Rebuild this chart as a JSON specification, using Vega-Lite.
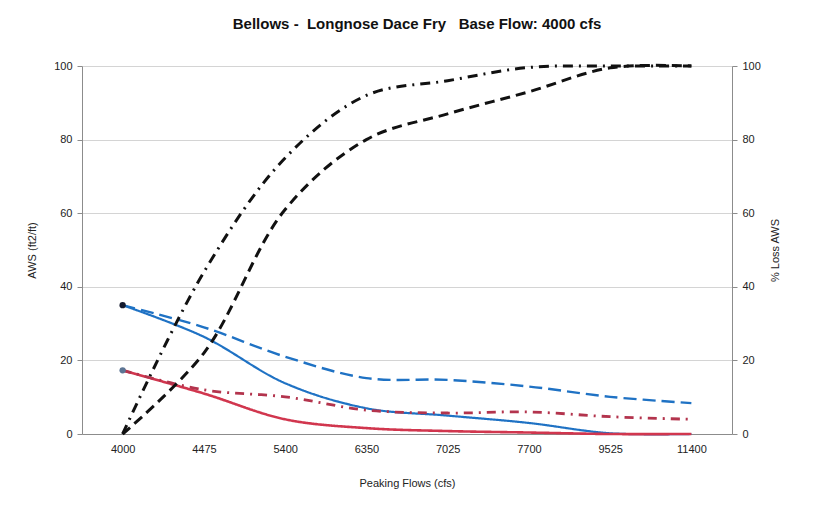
{
  "$schema": "https://vega.github.io/schema/vega-lite/v6.json",
  "autosize": {"type": "none"},
  "width": 650,
  "height": 368,
  "padding": {"left": 82, "top": 66, "right": 86, "bottom": 71},
  "background": "white",
  "config": {
    "font": "Liberation Sans",
    "view": {"stroke": null},
    "axis": {"labelFont": "Liberation Sans", "titleFont": "Liberation Sans", "labelFontSize": 11, "titleFontSize": 11, "titleFontWeight": "normal", "labelColor": "#222", "titleColor": "#222", "domainColor": "#8c8c8c", "tickColor": "#8c8c8c"}
  },
  "title": {"text": "Bellows -\u00a0 Longnose Dace Fry \u00a0 Base Flow: 4000 cfs", "fontSize": 15, "fontWeight": "bold", "font": "Liberation Sans", "color": "#111", "anchor": "middle", "offset": 27, "dx": 10},
  "datasets": {
    "aws": [
      {"flow": "4000", "series": "AWS 1", "value": 35},
      {"flow": "4475", "series": "AWS 1", "value": 26.4},
      {"flow": "5400", "series": "AWS 1", "value": 13.8},
      {"flow": "6350", "series": "AWS 1", "value": 7},
      {"flow": "7025", "series": "AWS 1", "value": 5},
      {"flow": "7700", "series": "AWS 1", "value": 3},
      {"flow": "9525", "series": "AWS 1", "value": 0.2},
      {"flow": "11400", "series": "AWS 1", "value": 0},
      {"flow": "4000", "series": "AWS 2", "value": 35},
      {"flow": "4475", "series": "AWS 2", "value": 29},
      {"flow": "5400", "series": "AWS 2", "value": 21},
      {"flow": "6350", "series": "AWS 2", "value": 15.2},
      {"flow": "7025", "series": "AWS 2", "value": 14.7},
      {"flow": "7700", "series": "AWS 2", "value": 12.9},
      {"flow": "9525", "series": "AWS 2", "value": 10.1},
      {"flow": "11400", "series": "AWS 2", "value": 8.4},
      {"flow": "4000", "series": "AWS 3", "value": 17.3},
      {"flow": "4475", "series": "AWS 3", "value": 11},
      {"flow": "5400", "series": "AWS 3", "value": 4},
      {"flow": "6350", "series": "AWS 3", "value": 1.6},
      {"flow": "7025", "series": "AWS 3", "value": 0.8},
      {"flow": "7700", "series": "AWS 3", "value": 0.4},
      {"flow": "9525", "series": "AWS 3", "value": 0},
      {"flow": "11400", "series": "AWS 3", "value": 0},
      {"flow": "4000", "series": "AWS 4", "value": 17.3},
      {"flow": "4475", "series": "AWS 4", "value": 12},
      {"flow": "5400", "series": "AWS 4", "value": 10.1},
      {"flow": "6350", "series": "AWS 4", "value": 6.5},
      {"flow": "7025", "series": "AWS 4", "value": 5.7},
      {"flow": "7700", "series": "AWS 4", "value": 6},
      {"flow": "9525", "series": "AWS 4", "value": 4.7},
      {"flow": "11400", "series": "AWS 4", "value": 4}
    ],
    "base": [
      {"flow": "4000", "series": "Base 1", "value": 35},
      {"flow": "4000", "series": "Base 2", "value": 17.3}
    ],
    "loss": [
      {"flow": "4000", "series": "% Loss 1", "value": 0},
      {"flow": "4475", "series": "% Loss 1", "value": 44},
      {"flow": "5400", "series": "% Loss 1", "value": 75},
      {"flow": "6350", "series": "% Loss 1", "value": 92},
      {"flow": "7025", "series": "% Loss 1", "value": 96},
      {"flow": "7700", "series": "% Loss 1", "value": 99.6},
      {"flow": "9525", "series": "% Loss 1", "value": 100},
      {"flow": "11400", "series": "% Loss 1", "value": 100},
      {"flow": "4000", "series": "% Loss 2", "value": 0},
      {"flow": "4475", "series": "% Loss 2", "value": 22},
      {"flow": "5400", "series": "% Loss 2", "value": 61},
      {"flow": "6350", "series": "% Loss 2", "value": 80},
      {"flow": "7025", "series": "% Loss 2", "value": 87},
      {"flow": "7700", "series": "% Loss 2", "value": 93},
      {"flow": "9525", "series": "% Loss 2", "value": 99.5},
      {"flow": "11400", "series": "% Loss 2", "value": 100}
    ]
  },
  "encoding": {
    "x": {
      "field": "flow", "type": "ordinal",
      "sort": ["4000", "4475", "5400", "6350", "7025", "7700", "9525", "11400"],
      "scale": {"type": "point", "padding": 0.5},
      "axis": {"title": "Peaking Flows (cfs)", "labelAngle": 0, "ticks": false, "labelPadding": 9, "titlePadding": 23, "domainColor": "#8c8c8c"}
    }
  },
  "layer": [
    {
      "layer": [
        {
          "data": {"name": "aws"},
          "mark": {"type": "line", "interpolate": "catmull-rom", "strokeCap": "butt"},
          "encoding": {
            "y": {"field": "value", "type": "quantitative", "scale": {"domain": [0, 100]},
              "axis": {"title": "AWS (ft2/ft)", "orient": "left", "values": [0, 20, 40, 60, 80, 100], "grid": true, "gridColor": "#d4d4d4", "tickSize": 5, "labelPadding": 5, "titlePadding": 16}},
            "color": {"field": "series", "type": "nominal", "legend": null,
              "scale": {"domain": ["AWS 1", "AWS 2", "AWS 3", "AWS 4", "Base 1", "Base 2"], "range": ["#1f72c4", "#1f72c4", "#d1364e", "#b3344d", "#141a2e", "#5c7594"]}},
            "strokeDash": {"field": "series", "type": "nominal", "legend": null,
              "scale": {"domain": ["AWS 1", "AWS 2", "AWS 3", "AWS 4"], "range": [[1, 0], [13, 6], [1, 0], [9, 6, 2, 6]]}},
            "strokeWidth": {"field": "series", "type": "nominal", "legend": null,
              "scale": {"domain": ["AWS 1", "AWS 2", "AWS 3", "AWS 4"], "range": [2.2, 2.8, 2.2, 2.5]}}
          }
        },
        {
          "data": {"name": "base"},
          "mark": {"type": "point", "filled": true, "size": 40, "opacity": 1},
          "encoding": {
            "y": {"field": "value", "type": "quantitative"},
            "color": {"field": "series", "type": "nominal", "legend": null}
          }
        }
      ]
    },
    {
      "data": {"name": "loss"},
      "mark": {"type": "line", "interpolate": "catmull-rom", "color": "#111", "strokeCap": "butt"},
      "encoding": {
        "y": {"field": "value", "type": "quantitative", "scale": {"domain": [0, 100]},
          "axis": {"title": "% Loss AWS", "orient": "right", "values": [0, 20, 40, 60, 80, 100], "grid": false, "tickSize": 5, "labelPadding": 5, "titlePadding": 20, "titleAngle": -90}},
        "detail": {"field": "series", "type": "nominal"},
        "strokeDash": {"field": "series", "type": "nominal", "legend": null,
          "scale": {"domain": ["% Loss 1", "% Loss 2"], "range": [[10, 6, 2, 6], [10, 6]]}},
        "strokeWidth": {"value": 3}
      }
    }
  ],
  "resolve": {"scale": {"y": "independent", "strokeDash": "independent", "strokeWidth": "independent"}}
}
